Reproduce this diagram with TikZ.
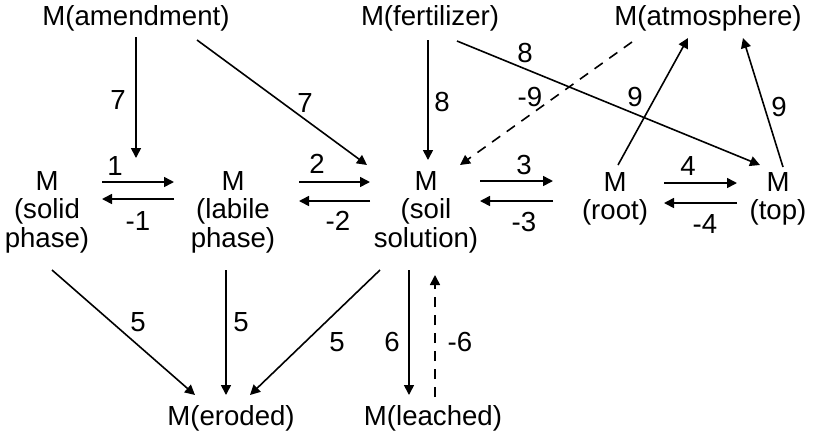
\documentclass[tikz,border=0pt]{standalone}
\usepackage{fontspec}
\setmainfont{Liberation Sans}
\usetikzlibrary{arrows.meta}
\begin{document}
\begin{tikzpicture}[x=0.5pt,y=-0.5pt,
  font=\fontsize{13.8pt}{14.2pt}\selectfont,
  pool/.style={inner sep=0pt,align=center},
  flow/.style={line width=0.8pt,-{Triangle[length=5pt,width=5pt]}},
  back/.style={flow,dash pattern=on 5pt off 4pt},
  rate/.style={inner sep=0pt}]
\useasboundingbox (0,0) rectangle (815,440);
% pools
\node[pool] (amend) at (136,18) {M(amendment)};
\node[pool] (fert) at (430,18) {M(fertilizer)};
\node[pool] (atmo) at (708,18) {M(atmosphere)};
\node[pool] (solid) at (47,212) {M\\(solid\\phase)};
\node[pool] (labile) at (233,212) {M\\(labile\\phase)};
\node[pool] (soil) at (426,212) {M\\(soil\\solution)};
\node[pool] (root) at (615,199) {M\\(root)};
\node[pool] (top) at (778,199) {M\\(top)};
\node[pool] (eroded) at (231,418) {M(eroded)};
\node[pool] (leached) at (433,418) {M(leached)};
% inputs
\draw[flow] ([shift={(0,19)}]amend.center) -- ([shift={(89,-54)}]solid.center);
\draw[flow] ([shift={(61,22)}]amend.center) -- ([shift={(-59,-47)}]soil.center);
\draw[flow] ([shift={(-2,22)}]fert.center) -- ([shift={(2,-52)}]soil.center);
\draw[flow] ([shift={(27,23)}]fert.center) -- ([shift={(-18,-34)}]top.center);
\draw[back] ([shift={(-76,24)}]atmo.center) -- ([shift={(34,-47)}]soil.center);
\draw[flow] ([shift={(3,-34)}]root.center) -- ([shift={(-20,20)}]atmo.center);
\draw[flow] ([shift={(5,-32)}]top.center) -- ([shift={(35,20)}]atmo.center);
% exchanges
\draw[flow] ([shift={(55,-30)}]solid.center) -- ([shift={(-59,-30)}]labile.center);
\draw[flow] ([shift={(-59,-13)}]labile.center) -- ([shift={(55,-13)}]solid.center);
\draw[flow] ([shift={(66,-30)}]labile.center) -- ([shift={(-56,-30)}]soil.center);
\draw[flow] ([shift={(-56,-11)}]soil.center) -- ([shift={(66,-11)}]labile.center);
\draw[flow] ([shift={(54,-31)}]soil.center) -- ([shift={(-62,-18)}]root.center);
\draw[flow] ([shift={(-62,2)}]root.center) -- ([shift={(54,-11)}]soil.center);
\draw[flow] ([shift={(49,-16)}]root.center) -- ([shift={(-41,-16)}]top.center);
\draw[flow] ([shift={(-41,4)}]top.center) -- ([shift={(49,4)}]root.center);
% losses
\draw[flow] ([shift={(5,58)}]solid.center) -- ([shift={(-36,-23)}]eroded.center);
\draw[flow] ([shift={(-7,58)}]labile.center) -- ([shift={(-5,-23)}]eroded.center);
\draw[flow] ([shift={(-46,58)}]soil.center) -- ([shift={(19,-23)}]eroded.center);
\draw[flow] ([shift={(-17,58)}]soil.center) -- ([shift={(-24,-23)}]leached.center);
\draw[back] ([shift={(2,-21)}]leached.center) -- ([shift={(9,63)}]soil.center);
% rate labels
\node[rate] (r7a) at (118,100) {7};
\node[rate] (r7b) at (305,103) {7};
\node[rate] (r8a) at (442,102) {8};
\node[rate] (r8b) at (525,53) {8};
\node[rate] (r9m) at (530,97) {-9};
\node[rate] (r9a) at (635,97) {9};
\node[rate] (r9b) at (779,107) {9};
\node[rate] (r1) at (115,166) {1};
\node[rate] (r1m) at (138,221) {-1};
\node[rate] (r2) at (317,164) {2};
\node[rate] (r2m) at (338,221) {-2};
\node[rate] (r3) at (524,165) {3};
\node[rate] (r3m) at (524,222) {-3};
\node[rate] (r4) at (688,166) {4};
\node[rate] (r4m) at (705,224) {-4};
\node[rate] (r5a) at (138,322) {5};
\node[rate] (r5b) at (241,322) {5};
\node[rate] (r5c) at (337,342) {5};
\node[rate] (r6) at (392,342) {6};
\node[rate] (r6m) at (460,342) {-6};
\end{tikzpicture}
\end{document}
